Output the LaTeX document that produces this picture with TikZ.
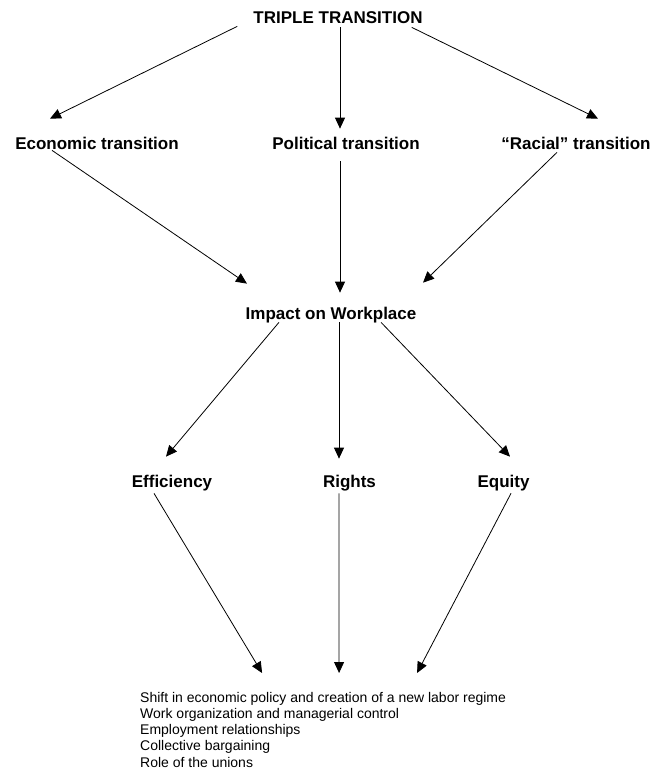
\documentclass[tikz,border=0pt]{standalone}
\usepackage{fontspec}
\setmainfont{Liberation Sans}
\usetikzlibrary{arrows.meta}
\tikzset{
	basic/.style = {inner sep=0pt, text height=12.3pt, text depth=0pt},
	head/.style = {basic, font=\fontsize{17}{20}\selectfont\bfseries},
	issue list/.style = {inner sep=0pt, align=left, font=\fontsize{14}{16.2}\selectfont},
	link/.style = {draw, line width=0.8pt, -{Triangle[length=11pt,width=10pt]}}
}

\begin{document}
\begin{tikzpicture}[x=1pt, y=-1pt]
	\useasboundingbox (0,0) rectangle (652,770);

	% top of the figure
	\node[head] (tt) at (338,17) {TRIPLE TRANSITION};
	% the three transitions
	\node[head] (econ) at (97,143) {Economic transition};
	\node[head] (pol) at (346,143) {Political transition};
	\node[head] (racial) at (576,143) {“Racial” transition};
	% where they meet
	\node[head] (impact) at (331,313) {Impact on Workplace};
	\node[head] (eff) at (172,481) {Efficiency};
	\node[head] (rights) at (349.5,481) {Rights};
	\node[head] (equity) at (503.5,481) {Equity};
	\node[issue list, anchor=north west] (issues) at (140,692) {Shift in economic policy and creation of a new labor regime\\
		Work organization and managerial control\\
		Employment relationships\\
		Collective bargaining\\
		Role of the unions};

	% arrows
	\draw[link] ([xshift=-16pt,yshift=-3pt]tt.south west) -- ([xshift=-47pt,yshift=18pt]econ.north);
	\draw[link] ([xshift=2pt,yshift=-4pt]tt.south) -- ([xshift=-6pt,yshift=8pt]pol.north);
	\draw[link] ([xshift=-11pt,yshift=-4pt]tt.south east) -- ([xshift=22pt,yshift=18pt]racial.north);

	\draw[link] ([xshift=-45pt,yshift=-1pt]econ.south) -- ([xshift=1.5pt,yshift=23pt]impact.north west);
	\draw[link] ([xshift=-6pt,yshift=-12pt]pol.south) -- ([xshift=9pt,yshift=14pt]impact.north);
	\draw[link] ([xshift=-19pt,yshift=-3pt]racial.south) -- ([xshift=6.5pt,yshift=24pt]impact.north east);

	\draw[link] ([xshift=33.5pt,yshift=-3pt]impact.south west) -- ([xshift=-6pt,yshift=18pt]eff.north);
	\draw[link] ([xshift=8pt,yshift=-3pt]impact.south) -- ([xshift=-10.5pt,yshift=16pt]rights.north);
	\draw[link] ([xshift=-35.5pt,yshift=-3pt]impact.south east) -- ([xshift=6.5pt,yshift=18pt]equity.north);

	\draw[link] ([xshift=-18pt,yshift=-6pt]eff.south) -- ([xshift=-61pt,yshift=19pt]issues.north);
	\draw[link] ([xshift=-10.5pt,yshift=-6pt]rights.south) -- ([xshift=16pt,yshift=19pt]issues.north);
	\draw[link] ([xshift=7.5pt,yshift=-6pt]equity.south) -- ([xshift=94pt,yshift=19pt]issues.north);
\end{tikzpicture}
\end{document}
